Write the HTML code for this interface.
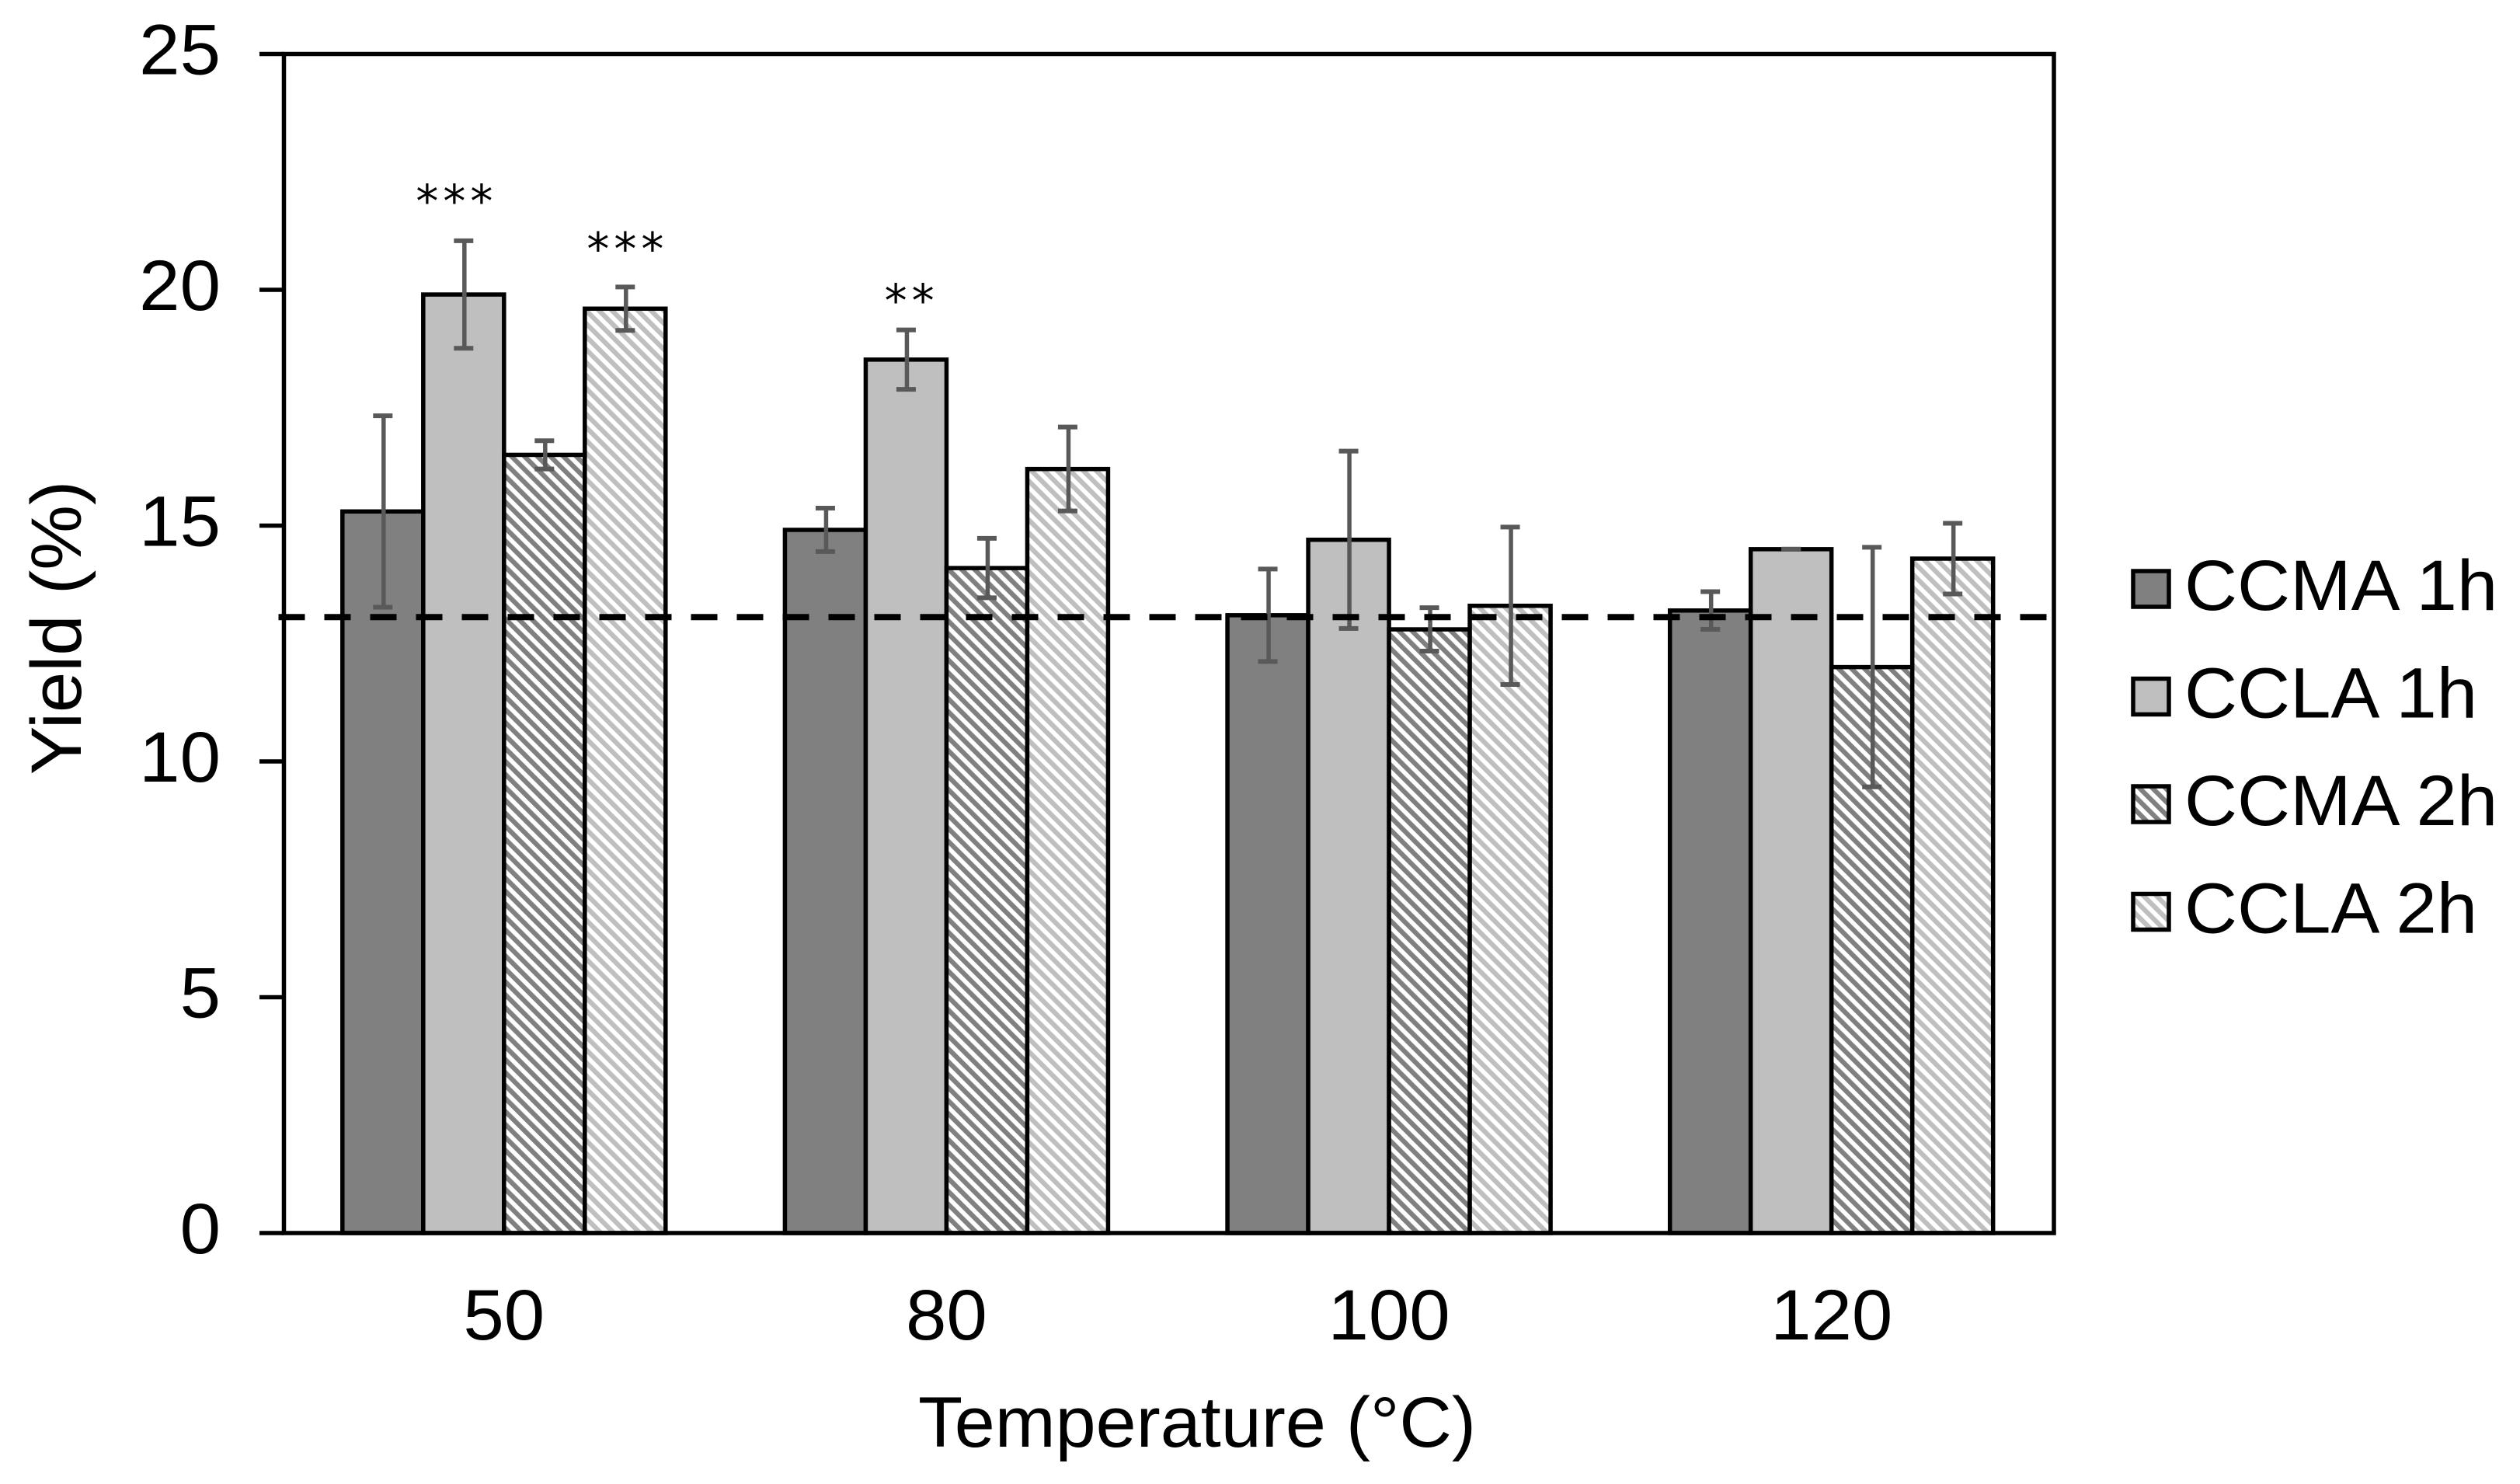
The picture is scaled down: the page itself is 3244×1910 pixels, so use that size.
<!DOCTYPE html>
<html lang="en">
<head>
<meta charset="utf-8">
<title>Yield vs Temperature</title>
<style>
html,body{margin:0;padding:0;background:#fff;}
svg{display:block;}
text{font-family:"Liberation Sans",Arial,sans-serif;fill:#000;}
</style>
</head>
<body>
<svg id="chart" xmlns="http://www.w3.org/2000/svg" width="3244" height="1910" viewBox="0 0 3244 1910">
<defs>
<pattern id="hatch-ccma" patternUnits="userSpaceOnUse" width="11.8" height="11.8" patternTransform="rotate(-45)">
<rect width="11.8" height="11.8" fill="#fff"/>
<rect width="6.2" height="11.8" fill="#808080"/>
</pattern>
<pattern id="hatch-ccla" patternUnits="userSpaceOnUse" width="11.8" height="11.8" patternTransform="rotate(-45)">
<rect width="11.8" height="11.8" fill="#fff"/>
<rect width="6.2" height="11.8" fill="#bfbfbf"/>
</pattern>
</defs>
<rect x="0" y="0" width="3244" height="1910" fill="#fff"/>
<g id="bars"></g>
<g id="errors"></g>
<rect x="365.5" y="69.5" width="2278.5" height="1517.5" fill="none" stroke="#000" stroke-width="5.5"/>
<g id="ticks"></g>
<g id="ref"></g>
<g id="labels"></g>
<g id="stars"></g>
<text font-size="91.5" text-anchor="middle" transform="translate(1541,1862) scale(1.022,1)">Temperature (°C)</text>
<text font-size="91.5" text-anchor="middle" transform="translate(104,808) rotate(-90) scale(1.03,1)">Yield (%)</text>
<g id="legend"></g>
</svg>
<script>
const categories = ["50", "80", "100", "120"];
const seriesNames = ["CCMA 1h", "CCLA 1h", "CCMA 2h", "CCLA 2h"];
const ccma1h = [15.3, 14.91, 13.1, 13.2];
const ccla1h = [19.9, 18.52, 14.7, 14.5];
const ccma2h = [16.5, 14.1, 12.8, 12.0];
const ccla2h = [19.6, 16.2, 13.3, 14.3];
const ccma1hErr = [2.03, 0.46, 0.98, 0.40];
const ccla1hErr = [1.14, 0.63, 1.88, 0.00];
const ccma2hErr = [0.30, 0.63, 0.46, 2.54];
const ccla2hErr = [0.46, 0.89, 1.67, 0.75];
const yTicks = [0, 5, 10, 15, 20, 25];
const referenceValue = 13.06;
const significanceCategory = ["50", "50", "80"];
const significanceSlot = [0.885, 3.0, 1.04];
const significanceLevel = [22.03, 21.01, 19.92];
const significanceMarks = ["***", "***", "**"];

const seriesValues = [ccma1h, ccla1h, ccma2h, ccla2h];
const seriesErrors = [ccma1hErr, ccla1hErr, ccma2hErr, ccla2hErr];
const seriesFills = ["#808080", "#bfbfbf", "url(#hatch-ccma)", "url(#hatch-ccla)"];

const NS = "http://www.w3.org/2000/svg";
const plotLeft = 365.5, plotRight = 2644, plotTop = 69.5, plotBottom = 1587;
const yMax = 25;
const barWidth = 104;
const groupWidth = (plotRight - plotLeft) / categories.length;

function yScale(v) { return plotBottom - (v / yMax) * (plotBottom - plotTop); }
function xGroup(i) { return plotLeft + groupWidth * (i + 0.5) - 1.5; }
function xBar(i, s) { return xGroup(i) + (s - seriesNames.length / 2) * barWidth; }
function make(tag, attrs, parent) {
  const el = document.createElementNS(NS, tag);
  for (const k in attrs) el.setAttribute(k, attrs[k]);
  parent.appendChild(el);
  return el;
}

const barsG = document.getElementById("bars");
const errorsG = document.getElementById("errors");
seriesNames.forEach(function (name, s) {
  categories.forEach(function (cat, i) {
    const v = seriesValues[s][i];
    const bar = make("rect", {
      x: xBar(i, s), y: yScale(v), width: barWidth, height: plotBottom - yScale(v),
      fill: seriesFills[s], stroke: "#000", "stroke-width": 5.5
    }, barsG);
    
    

    const e = seriesErrors[s][i];
    const cx = xBar(i, s) + barWidth / 2;
    const hi = yScale(v + e), lo = yScale(v - e);
    const eg = make("g", { stroke: "#595959", fill: "none" }, errorsG);
    
    
    make("line", { x1: cx + 1, x2: cx + 1, y1: hi, y2: lo, "stroke-width": 5.5 }, eg);
    make("line", { x1: cx - 12.5, x2: cx + 12.5, y1: hi, y2: hi, "stroke-width": 6 }, eg);
    make("line", { x1: cx - 12.5, x2: cx + 12.5, y1: lo, y2: lo, "stroke-width": 6 }, eg);
  });
});

const ticksG = document.getElementById("ticks");
const labelsG = document.getElementById("labels");
yTicks.forEach(function (t) {
  const tick = make("line", { x1: 334, x2: plotLeft, y1: yScale(t), y2: yScale(t), stroke: "#000", "stroke-width": 5.5 }, ticksG);
  
  
  const label = make("text", { "font-size": 91.5, "text-anchor": "end", transform: "translate(284," + (yScale(t) + 26) + ") scale(1.03,1)" }, labelsG);
  label.textContent = String(t);
  
  
});
categories.forEach(function (cat, i) {
  const label = make("text", { "font-size": 91.5, "text-anchor": "middle", transform: "translate(" + xGroup(i) + ",1724) scale(1.03,1)" }, labelsG);
  label.textContent = cat;
  
  
});

const refLine = make("line", {
  x1: plotLeft - 7, x2: plotRight - 9, y1: yScale(referenceValue), y2: yScale(referenceValue),
  stroke: "#000", "stroke-width": 8, "stroke-dasharray": "34 25"
}, document.getElementById("ref"));



const starsG = document.getElementById("stars");
significanceMarks.forEach(function (mark, k) {
  const i = categories.indexOf(significanceCategory[k]);
  const star = make("text", {
    "font-size": 58, "text-anchor": "middle", "letter-spacing": 6,
    style: 'font-family:"DejaVu Sans",sans-serif',
    x: xBar(i, significanceSlot[k]) + barWidth / 2 + 3, y: yScale(significanceLevel[k]) + 29
  }, starsG);
  star.textContent = mark;
  
  
});

const legendG = document.getElementById("legend");
const legendRowTop = 732, legendRowStep = 138.5;
seriesNames.forEach(function (name, s) {
  const top = legendRowTop + s * legendRowStep;
  const row = make("g", {}, legendG);
  
  
  const sw = make("rect", { x: 2746, y: top + 3, width: 46, height: 46, fill: seriesFills[s], stroke: "#000", "stroke-width": 5.5 }, row);
  
  
  const tx = make("text", { "font-size": 91.5, transform: "translate(2812," + (top + 53) + ") scale(1.03,1)" }, row);
  tx.textContent = name;
  
  
});
</script>
</body>
</html>
